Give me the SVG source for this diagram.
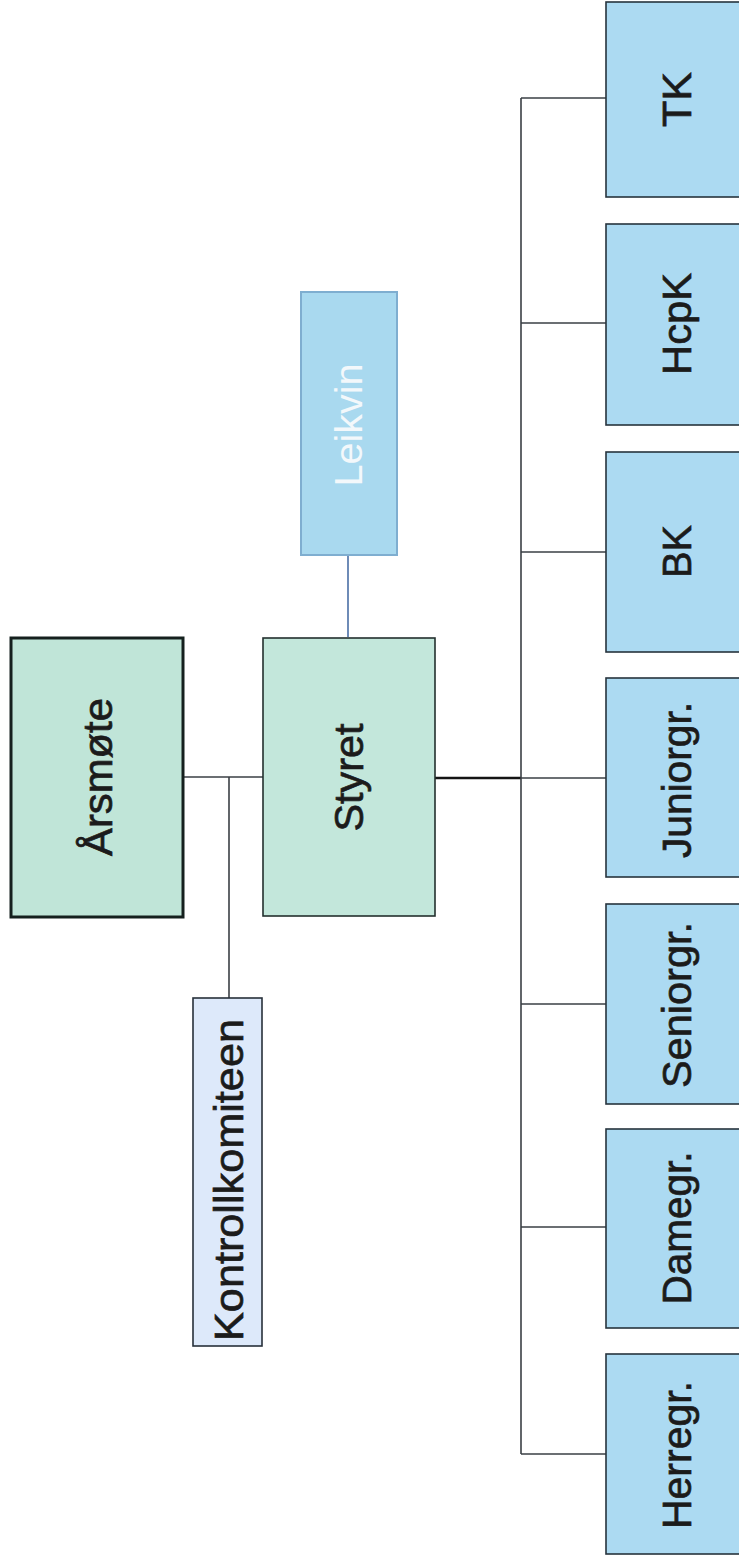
<svg xmlns="http://www.w3.org/2000/svg" width="739" height="1561" viewBox="0 0 739 1561">
<style>
.lbl{font-family:"Liberation Sans",Arial,sans-serif;font-size:41px;fill:#1b1b1b;stroke:#1b1b1b;stroke-width:0.7;text-anchor:middle}
.wht{fill:#f3f8fb;stroke:none;font-size:39px}
.conn{fill:none;stroke:#3a3f44;stroke-width:1.6}
.green{fill:#c3e7db;stroke:#24302e;stroke-width:1.6}
.blue{fill:#acdaf2;stroke:#27343d;stroke-width:1.6}
</style>
<rect width="739" height="1561" fill="#ffffff"/>
<g id="connectors">
  <path class="conn" d="M183 777 H263"/>
  <path class="conn" d="M229 777 V998"/>
  <path d="M348 555 V637" fill="none" stroke="#4a6fa5" stroke-width="1.6"/>
  <path d="M435 778 H521" fill="none" stroke="#141414" stroke-width="2.6"/>
  <path class="conn" d="M521 98 V1454"/>
  <path class="conn" d="M521 98 H606"/>
  <path class="conn" d="M521 323 H606"/>
  <path class="conn" d="M521 552 H606"/>
  <path class="conn" d="M521 778 H606"/>
  <path class="conn" d="M521 1004 H606"/>
  <path class="conn" d="M521 1227 H606"/>
  <path class="conn" d="M521 1454 H606"/>
</g>
<g id="arsmote">
  <rect x="11" y="638" width="172" height="279" fill="#c0e5d8" stroke="#15201e" stroke-width="3"/>
  <text class="lbl" transform="translate(112,777) rotate(-90)" textLength="158" lengthAdjust="spacingAndGlyphs">Årsmøte</text>
</g>
<g id="styret">
  <rect class="green" x="263" y="638" width="172" height="278" fill="#c6e9e0"/>
  <text class="lbl" transform="translate(363,777.5) rotate(-90)" textLength="108" lengthAdjust="spacingAndGlyphs">Styret</text>
</g>
<g id="leikvin">
  <rect x="301" y="292" width="96" height="263" fill="#a9d9ef" stroke="#7faed0" stroke-width="2"/>
  <text class="lbl wht" transform="translate(362,425) rotate(-90)" textLength="123" lengthAdjust="spacingAndGlyphs">Leikvin</text>
</g>
<g id="kontrollkomiteen">
  <rect x="193" y="998" width="69" height="348" fill="#dde9fa" stroke="#27303a" stroke-width="1.6"/>
  <text class="lbl" transform="translate(243,1180) rotate(-90)" textLength="322" lengthAdjust="spacingAndGlyphs">Kontrollkomiteen</text>
</g>
<g id="tk">
  <rect class="blue" x="606" y="2" width="145" height="195"/>
  <text class="lbl" transform="translate(691,99.5) rotate(-90)" textLength="55" lengthAdjust="spacingAndGlyphs">TK</text>
</g>
<g id="hcpk">
  <rect class="blue" x="606" y="224" width="145" height="201"/>
  <text class="lbl" transform="translate(691,324) rotate(-90)" textLength="102" lengthAdjust="spacingAndGlyphs">HcpK</text>
</g>
<g id="bk">
  <rect class="blue" x="606" y="452" width="145" height="200"/>
  <text class="lbl" transform="translate(691,551.5) rotate(-90)" textLength="53" lengthAdjust="spacingAndGlyphs">BK</text>
</g>
<g id="juniorgr">
  <rect class="blue" x="606" y="678" width="145" height="199"/>
  <text class="lbl" transform="translate(691,780) rotate(-90)" textLength="156" lengthAdjust="spacingAndGlyphs">Juniorgr.</text>
</g>
<g id="seniorgr">
  <rect class="blue" x="606" y="904" width="145" height="200"/>
  <text class="lbl" transform="translate(691,1005) rotate(-90)" textLength="166" lengthAdjust="spacingAndGlyphs">Seniorgr.</text>
</g>
<g id="damegr">
  <rect class="blue" x="606" y="1129" width="145" height="199"/>
  <text class="lbl" transform="translate(691,1228) rotate(-90)" textLength="153" lengthAdjust="spacingAndGlyphs">Damegr.</text>
</g>
<g id="herregr">
  <rect class="blue" x="606" y="1354" width="145" height="200"/>
  <text class="lbl" transform="translate(691,1455) rotate(-90)" textLength="148" lengthAdjust="spacingAndGlyphs">Herregr.</text>
</g>
</svg>
